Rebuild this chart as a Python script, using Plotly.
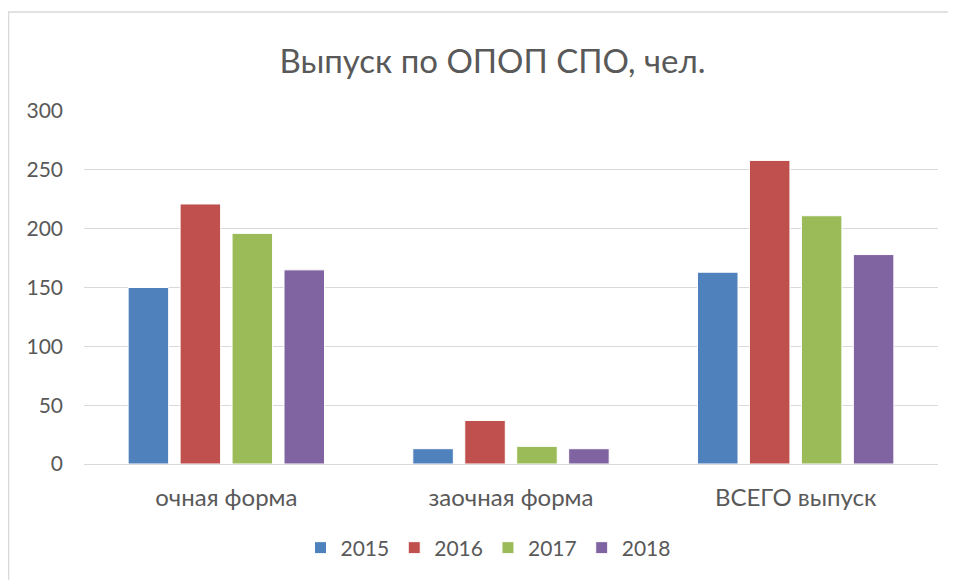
import plotly.graph_objects as go

categories = ["очная форма", "заочная форма", "ВСЕГО выпуск"]
years = ["2015", "2016", "2017", "2018"]
v2015 = [150, 13, 163]
v2016 = [221, 37, 258]
v2017 = [196, 15, 211]
v2018 = [165, 13, 178]
series = [v2015, v2016, v2017, v2018]
colors = ["#4f81bd", "#c0504d", "#9bbb59", "#8064a2"]
y_ticks = [0, 50, 100, 150, 200, 250, 300]

fig = go.Figure()
for name, vals, col in zip(years, series, colors):
    fig.add_trace(go.Bar(x=categories, y=vals, name=name,
                         marker=dict(color=col, line=dict(color="white", width=1))))

font_family = "Lato, Open Sans, sans-serif"
W, H = 946, 572
fig.update_layout(
    width=W, height=H,
    margin=dict(l=76, r=16, t=103, b=116),
    paper_bgcolor="white", plot_bgcolor="white",
    barmode="group", bargap=0.27, bargroupgap=0.22,
    title=dict(text="Выпуск по ОПОП СПО, чел.", x=(492.5 - 8) / W, xanchor="center",
               y=1 - (61 - 8) / H, yanchor="middle",
               font=dict(family=font_family, size=33, color="#595959")),
    font=dict(family=font_family, size=21, color="#595959"),
    showlegend=True,
    legend=dict(orientation="h", x=(488 - 84) / 854, xanchor="center",
                y=(464 - 548) / 353, yanchor="middle",
                font=dict(size=21, color="#595959"), itemwidth=30, traceorder="normal"),
    xaxis=dict(showgrid=False, showline=True, linecolor="#d9d9d9", linewidth=1,
               ticks="", ticklabelstandoff=12, tickfont=dict(size=24, color="#595959")),
    yaxis=dict(range=[0, 300], tickvals=y_ticks, showgrid=True, gridcolor="#d9d9d9",
               gridwidth=1, zeroline=False, showline=False, ticks="",
               ticklabelstandoff=20, tickfont=dict(size=21, color="#595959")),
)
fig.add_shape(type="rect", xref="paper", yref="paper",
              x0=(8.5 - 84) / 854, x1=(952 - 84) / 854,
              y0=(464 - 590) / 353, y1=(464 - 12) / 353,
              line=dict(color="#d9d9d9", width=1.5), fillcolor="rgba(0,0,0,0)", layer="below")
fig.write_html("out.html")
